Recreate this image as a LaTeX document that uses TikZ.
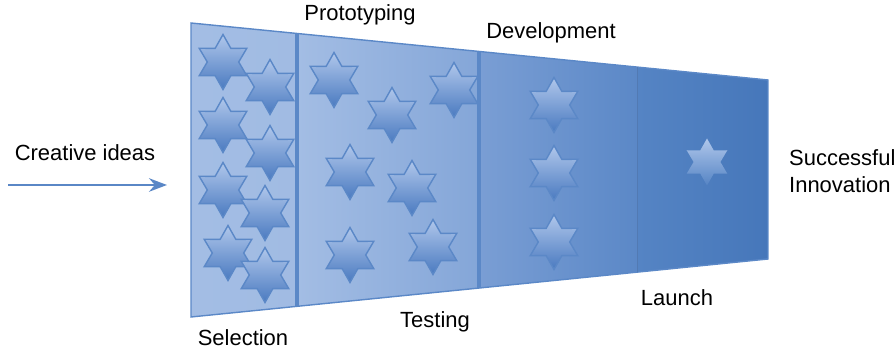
\documentclass[tikz,border=0pt]{standalone}
\usepackage{fontspec}
\setmainfont{Liberation Sans}
\usetikzlibrary{
  arrows.meta,      % Stealth arrow tips
  calc,             % points along the funnel edges
  shapes.geometric, % six-pointed stars
  positioning       % relative placement
}

\definecolor{funlight}{HTML}{A3BDE4}
\definecolor{funmid}{HTML}{84A6D8}
\definecolor{funmid2}{HTML}{7A9ED4}
\definecolor{fundark}{HTML}{4677BA}
\definecolor{funedge}{HTML}{5B88C7}
\definecolor{funlast}{HTML}{5584C4}
\definecolor{starlight}{HTML}{B0C7EB}
\definecolor{stardark}{HTML}{4A7AC0}
\definecolor{arrowblue}{HTML}{5A87C6}

\begin{document}
\begin{tikzpicture}[>=Stealth, x=0.02cm, y=-0.02cm,
  font=\fontsize{12.5}{15.5}\selectfont,
  hexstar/.style={star, star points=6, star point ratio=1.75,
    minimum size=1.1cm, inner sep=0pt, draw=funedge, line width=0.8pt,
    top color=starlight, bottom color=stardark},
  fadestar/.style={star, star points=6, star point ratio=1.75,
    minimum size=0.94cm, inner sep=0pt,
    top color=starlight, bottom color=funlast},
  divider/.style={funedge, line width=2.2pt}]
  \useasboundingbox (0,0) rectangle (896,350);

  % corners of the funnel (pixel grid, y downwards)
  \coordinate (TL) at (191,23);
  \coordinate (BL) at (191,317);
  \coordinate (TR) at (768,80);
  \coordinate (BR) at (768,259);

  % divider points along the top and bottom edges
  \coordinate (T1) at ($(TL)!0.184!(TR)$);
  \coordinate (B1) at ($(BL)!0.184!(BR)$);
  \coordinate (T2) at ($(TL)!0.499!(TR)$);
  \coordinate (B2) at ($(BL)!0.499!(BR)$);
  \coordinate (T3) at ($(TL)!0.773!(TR)$);
  \coordinate (B3) at ($(BL)!0.773!(BR)$);

  % 1. the four sections of the funnel
  \shade[left color=funlight, right color=funlight!92!funmid] (TL) -- (T1) -- (B1) -- (BL) -- cycle;
  \shade[left color=funlight, right color=funmid] (T1) -- (T2) -- (B2) -- (B1) -- cycle;
  \shade[left color=funmid2, right color=funedge] (T2) -- (T3) -- (B3) -- (B2) -- cycle;
  \shade[left color=funlast, right color=fundark] (T3) -- (TR) -- (BR) -- (B3) -- cycle;
  \draw[funedge, line width=0.8pt] (TL) -- (TR) -- (BR) -- (BL) -- cycle;

  % 2. dividers between the stages
  \draw[divider] (T1) -- (B1);
  \draw[divider] (T2) -- (B2);
  \draw[funedge!90!black, line width=0.4pt] (T3) -- (B3);

  % 3. ideas as stars, fewer at each stage
  \foreach \sx/\sy [count=\i] in {223/62, 270/87, 223/125, 270/153, 223/190,
      265/213, 228/253, 265/275, 334/80, 392/115, 454/90, 350/172, 412/188,
      350/255, 433/247, 554/105, 554/173, 554/242}
    \node[hexstar] (s\i) at (\sx,\sy) {};
  \node[fadestar] (s19) at (707,162) {};

  % 4. stage labels
  \node (proto) at (360,15) {Prototyping};
  \node (devel) at (551,33) {Development};
  \node (select) at (243,338) {Selection};
  \node (test) at (435,322) {Testing};
  \node (launch) at (677,298) {Launch};
  \node[align=left, anchor=west] (success) at (783,171) {Successful\\Innovation};

  % 5. incoming ideas
  \node (creative) at (85,153) {Creative ideas};
  \coordinate (ideaS) at (8,185);
  \coordinate (ideaE) at (167,185);
  \draw[->, arrowblue, line width=1.6pt] (ideaS) -- (ideaE);

\end{tikzpicture}
\end{document}
